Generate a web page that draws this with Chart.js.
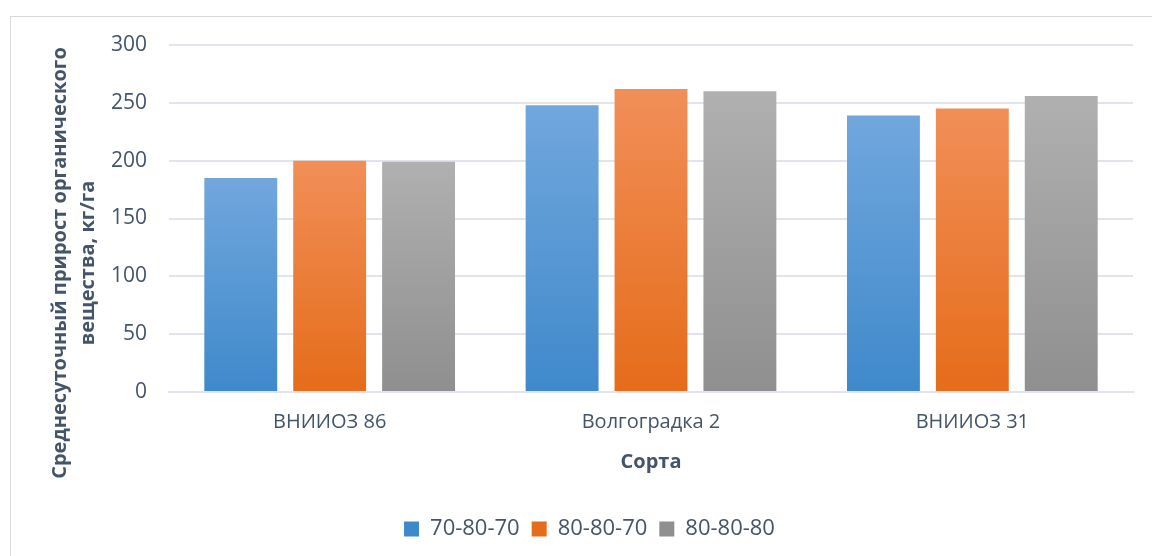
<!DOCTYPE html>
<html>
<head>
<meta charset="utf-8">
<script src="https://cdn.jsdelivr.net/npm/chart.js@4.4.0/dist/chart.umd.min.js"></script>
<style>
  html, body { margin: 0; padding: 0; background: #fff; }
  #wrap { position: relative; width: 1152px; height: 556px; overflow: hidden; }
  #frame { position: absolute; left: 10px; top: 16px; width: 1200px; height: 600px; border: 1.5px solid #d9d9d9; pointer-events: none; }
  #chart { position: absolute; left: 0; top: 0; }
</style>
</head>
<body>
<div id="wrap">
  <canvas id="chart" width="1152" height="556"></canvas>
  <div id="frame"></div>
</div>
<script>
// Сорта и схемы
const varieties = ['ВНИИОЗ 86', 'Волгоградка 2', 'ВНИИОЗ 31'];
const schemes = ['70-80-70', '80-80-70', '80-80-80'];

// среднесуточный прирост, кг/га
const gain_70_80_70 = [185, 248, 239];
const gain_80_80_70 = [200, 262, 245];
const gain_80_80_80 = [199, 260, 256];

const yTicks = [0, 50, 100, 150, 200, 250, 300];
const yTitleLines = ['Среднесуточный прирост органического', 'вещества, кг/га'];

const textColor = '#44546a';
const gridColor = '#e1e4ea';
const fontFamily = '"Open Sans", "Noto Sans", sans-serif';

// vertical gradient from top of each bar down to its base
function barGradient(top, bottom, solid) {
    return (ctx) => {
        const chart = ctx.chart;
        if (!chart.chartArea || ctx.raw === undefined) return solid;
        const y = chart.scales.y;
        const g = chart.ctx.createLinearGradient(0, y.getPixelForValue(ctx.raw), 0, y.getPixelForValue(0));
        g.addColorStop(0, top);
        g.addColorStop(1, bottom);
        return g;
    };
}

// y axis title is centred on the whole canvas height, not the plot area,
// so it is drawn by hand instead of through scales.y.title
const yTitlePlugin = {
    id: 'yTitle',
    afterDraw(chart) {
        const c = chart.ctx;
        c.save();
        c.translate(60, 263);
        c.rotate(-Math.PI / 2);
        c.font = 'bold 20px ' + fontFamily;
        c.fillStyle = textColor;
        c.textAlign = 'center';
        c.textBaseline = 'middle';
        yTitleLines.forEach((line, i) => c.fillText(line, 0, i * 28));
        c.restore();
    }
};

new Chart(document.getElementById('chart').getContext('2d'), {
    type: 'bar',
    data: {
        labels: varieties,
        datasets: [
            { label: schemes[0], data: gain_70_80_70, backgroundColor: barGradient('#71a7dd', '#3f89cb', '#5b9bd5') },
            { label: schemes[1], data: gain_80_80_70, backgroundColor: barGradient('#f18f58', '#e56c1a', '#ed7d31') },
            { label: schemes[2], data: gain_80_80_80, backgroundColor: barGradient('#b0b0b0', '#8f8f8f', '#a5a5a5') }
        ]
    },
    plugins: [yTitlePlugin],
    options: {
        responsive: false,
        animation: false,
        categoryPercentage: 0.83,
        barPercentage: 0.82,
        layout: { padding: { left: 46, right: 19, top: 45, bottom: 6 } },
        plugins: {
            legend: {
                position: 'bottom',
                labels: {
                    color: textColor,
                    font: { family: fontFamily, size: 22 },
                    boxWidth: 15,
                    boxHeight: 15,
                    padding: 12
                }
            },
            tooltip: { enabled: false }
        },
        scales: {
            x: {
                grid: { display: false },
                border: { display: true, color: gridColor, width: 2 },
                ticks: { color: textColor, font: { family: fontFamily, size: 20 }, padding: 10 },
                title: {
                    display: true,
                    text: 'Сорта',
                    color: textColor,
                    font: { family: fontFamily, size: 20, weight: 'bold' },
                    padding: { top: 6, bottom: 32 }
                }
            },
            y: {
                min: 0,
                max: 300,
                afterBuildTicks: (axis) => { axis.ticks = yTicks.map(v => ({ value: v })); },
                afterFit: (axis) => { axis.width = 123; },
                grid: { color: gridColor, lineWidth: 2, drawTicks: false },
                border: { display: false },
                ticks: { color: textColor, font: { family: fontFamily, size: 21 }, padding: 22 }
            }
        }
    }
});
</script>
</body>
</html>
